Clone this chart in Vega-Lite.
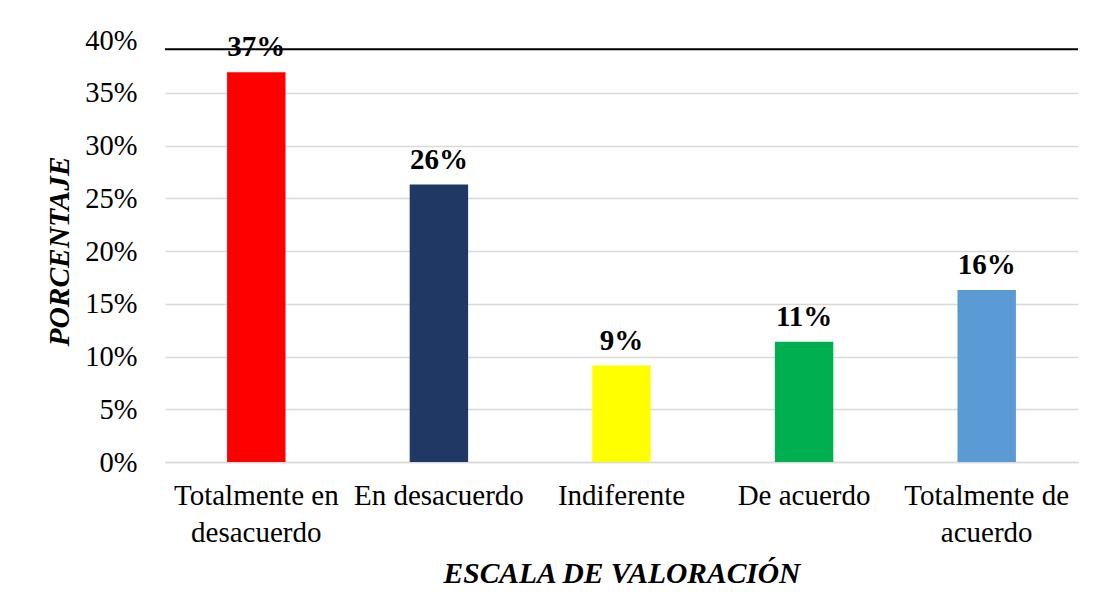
{
  "$schema": "https://vega.github.io/schema/vega-lite/v6.json",
  "autosize": "none",
  "width": 913,
  "height": 422,
  "padding": {"left": 165, "top": 40, "right": 16, "bottom": 153},
  "background": "white",
  "config": {
    "view": {"stroke": null},
    "font": "Liberation Serif"
  },
  "data": {
    "values": [
      {"escala": "Totalmente en desacuerdo", "porcentaje": 0.3695},
      {"escala": "En desacuerdo", "porcentaje": 0.263},
      {"escala": "Indiferente", "porcentaje": 0.0914},
      {"escala": "De acuerdo", "porcentaje": 0.114},
      {"escala": "Totalmente de acuerdo", "porcentaje": 0.163}
    ]
  },
  "encoding": {
    "x": {
      "field": "escala",
      "type": "nominal",
      "sort": null,
      "scale": {"paddingInner": 0.68, "paddingOuter": 0.34},
      "axis": {
        "title": "ESCALA DE VALORACIÓN",
        "titleFont": "Liberation Serif",
        "titleFontSize": 29.5,
        "titleFontWeight": "bold",
        "titleFontStyle": "italic",
        "titleColor": "black",
        "titlePadding": 12,
        "labelAngle": 0,
        "labelFont": "Liberation Serif",
        "labelFontSize": 29,
        "labelColor": "black",
        "labelPadding": 19,
        "labelLineHeight": 37,
        "labelLimit": 0,
        "labelExpr": "datum.value == 'Totalmente en desacuerdo' ? ['Totalmente en', 'desacuerdo'] : datum.value == 'Totalmente de acuerdo' ? ['Totalmente de', 'acuerdo'] : datum.value",
        "ticks": false,
        "domain": true,
        "domainColor": "#d9d9d9",
        "domainWidth": 1.5
      }
    },
    "y": {
      "field": "porcentaje",
      "type": "quantitative",
      "scale": {"domain": [0, 0.4], "nice": false},
      "axis": {
        "title": "PORCENTAJE",
        "titleFont": "Liberation Serif",
        "titleFontSize": 29.5,
        "titleFontWeight": "bold",
        "titleFontStyle": "italic",
        "titleColor": "black",
        "titlePadding": 10,
        "values": [0, 0.05, 0.1, 0.15, 0.2, 0.25, 0.3, 0.35, 0.4],
        "format": ".0%",
        "labelFont": "Liberation Serif",
        "labelFontSize": 28.5,
        "labelColor": "black",
        "labelPadding": 28,
        "ticks": false,
        "domain": false,
        "grid": true,
        "gridColor": {"condition": {"test": "datum.value >= 0.39", "value": "transparent"}, "value": "#d9d9d9"},
        "gridWidth": 1.5
      }
    }
  },
  "layer": [
    {
      "mark": {"type": "bar"},
      "encoding": {
        "color": {
          "field": "escala",
          "type": "nominal",
          "sort": null,
          "scale": {
            "domain": ["Totalmente en desacuerdo", "En desacuerdo", "Indiferente", "De acuerdo", "Totalmente de acuerdo"],
            "range": ["#FF0000", "#203864", "#FFFF00", "#00B050", "#5B9BD5"]
          },
          "legend": null
        }
      }
    },
    {
      "mark": {"type": "text", "baseline": "alphabetic", "dy": -16, "font": "Liberation Serif", "fontSize": 29, "fontWeight": "bold", "color": "black"},
      "encoding": {
        "text": {"field": "porcentaje", "type": "quantitative", "format": ".0%"}
      }
    },
    {
      "data": {"values": [{"linea": 0.3913}]},
      "mark": {"type": "rule", "color": "black", "strokeWidth": 2},
      "encoding": {
        "x": {"value": 0},
        "x2": {"value": 913},
        "y": {"field": "linea", "type": "quantitative"}
      }
    }
  ]
}
